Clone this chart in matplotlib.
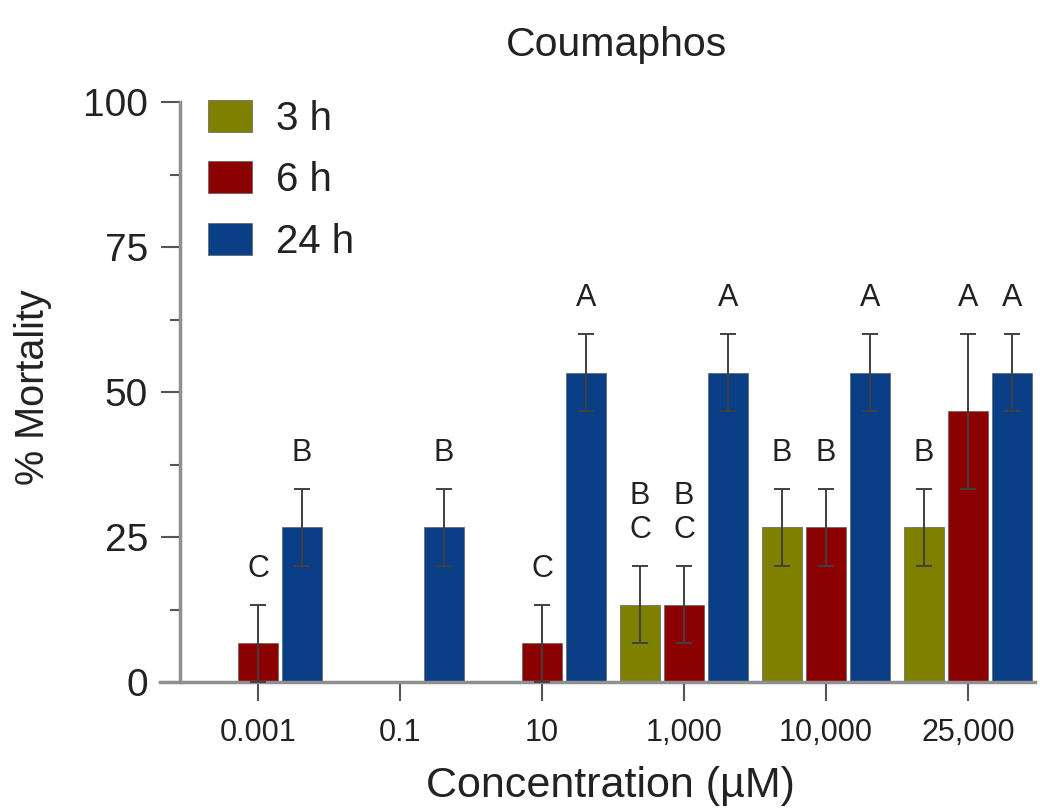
import numpy as np
import matplotlib
matplotlib.use('Agg')
import matplotlib.pyplot as plt
from matplotlib.ticker import MultipleLocator

plt.rcParams['font.family'] = ['Liberation Sans', 'DejaVu Sans']

# data
concentrations = ['0.001', '0.1', '10', '1,000', '10,000', '25,000']
mort_3h = [0, 0, 0, 13.33, 26.67, 26.67]
sem_3h = [0, 0, 0, 6.67, 6.67, 6.67]
mort_6h = [6.67, 0, 6.67, 13.33, 26.67, 46.67]
sem_6h = [6.67, 0, 6.67, 6.67, 6.67, 13.33]
mort_24h = [26.67, 26.67, 53.33, 53.33, 53.33, 53.33]
sem_24h = [6.67, 6.67, 6.67, 6.67, 6.67, 6.67]
letters_3h = ['', '', '', 'B\nC', 'B', 'B']
letters_6h = ['C', '', 'C', 'B\nC', 'B', 'A']
letters_24h = ['B', 'B', 'A', 'A', 'A', 'A']

W, H = 1040, 808
fig = plt.figure(figsize=(W / 100, H / 100), dpi=100)
ax = fig.add_axes([160 / W, (H - 682) / H, 875 / W, 580 / H])

x = np.arange(len(concentrations))
offset = 0.31
width = 0.28
text_col = '#222222'

series = [
    ('3 h', mort_3h, sem_3h, letters_3h, '#7f7f00', -offset),
    ('6 h', mort_6h, sem_6h, letters_6h, '#8b0000', 0.0),
    ('24 h', mort_24h, sem_24h, letters_24h, '#0a3f87', offset),
]

handles = []
for label, vals, errs, lets, col, dx in series:
    vals = np.array(vals)
    errs = np.array(errs)
    b = ax.bar(x + dx, vals, width, color=col, edgecolor='#606060',
               linewidth=0.5, label=label, zorder=2)
    handles.append(b)
    m = vals > 0
    ax.errorbar(x[m] + dx, vals[m], yerr=errs[m], fmt='none',
                ecolor='#404040', elinewidth=1.4, capsize=6, capthick=1.4,
                zorder=3)
    for xi, v, e, t in zip(x + dx, vals, errs, lets):
        if t:
            ax.annotate(t, (xi, v + e), xytext=(0, 15), textcoords='offset points',
                        ha='center', va='bottom', fontsize=22, color=text_col,
                        linespacing=1.2, zorder=4)

ax.set_xlim(-0.69, 5.472)
ax.set_ylim(0, 100)
ax.set_xticks(x)
ax.set_xticklabels(concentrations)
ax.yaxis.set_major_locator(MultipleLocator(25))
ax.yaxis.set_minor_locator(MultipleLocator(12.5))

for s in ['top', 'right']:
    ax.spines[s].set_visible(False)
ax.spines['left'].set_position(('data', -0.549))
for s in ['left', 'bottom']:
    ax.spines[s].set_color('#8f8f8f')
    ax.spines[s].set_linewidth(2.5)

ax.tick_params(axis='y', which='major', length=14, width=1.5, color='#555555',
               pad=9, labelsize=28, labelcolor=text_col)
ax.tick_params(axis='y', which='minor', length=7, width=1.5, color='#555555')
ax.tick_params(axis='x', which='major', length=14, width=1.5, color='#555555',
               pad=12, labelsize=22, labelcolor=text_col)

ax.legend(handles=handles, loc='upper left', bbox_to_anchor=(208 / W, 1 - 100 / H),
          bbox_transform=fig.transFigure, frameon=False, fontsize=29,
          borderaxespad=0, borderpad=0, handlelength=1.1, handleheight=0.85,
          handletextpad=0.6, labelspacing=0.58, labelcolor=text_col)

fig.text(616 / W, 1 - 45 / H, 'Coumaphos', ha='center', va='center',
         fontsize=29.5, color=text_col)
fig.text(610 / W, 1 - 786 / H, 'Concentration (µM)', ha='center', va='center',
         fontsize=31, color=text_col)
fig.text(33 / W, 1 - 387 / H, '% Mortality', ha='center', va='center',
         rotation=90, fontsize=28.5, color=text_col)

fig.savefig('out.png', dpi=100, facecolor='white')
